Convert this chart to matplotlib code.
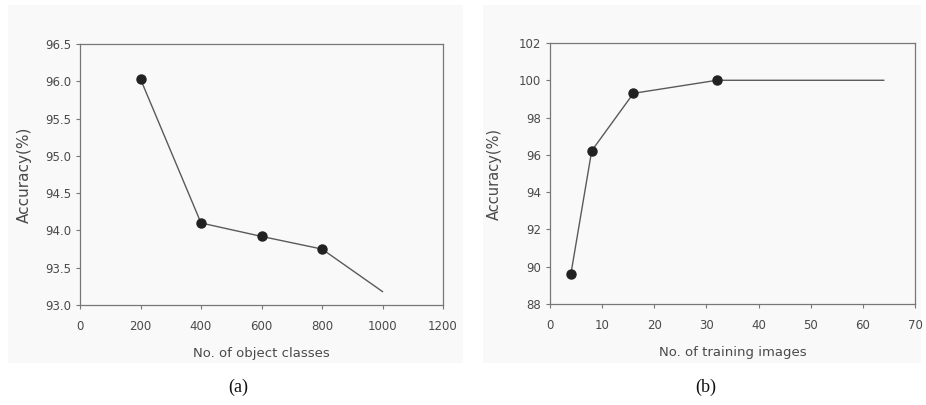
import matplotlib
matplotlib.use("Agg")
import matplotlib.pyplot as plt
from matplotlib.patches import Rectangle

plt.rcParams['font.family'] = ['DejaVu Sans']

# Data
classes = [200, 400, 600, 800, 1000]
acc_classes = [96.03, 94.10, 93.92, 93.75, 93.18]
train_imgs = [4, 8, 16, 32, 64]
acc_train = [89.6, 96.22, 99.3, 100.0, 100.0]

xt_a = [0, 200, 400, 600, 800, 1000, 1200]
yt_a = [93.0, 93.5, 94.0, 94.5, 95.0, 95.5, 96.0, 96.5]
xt_b = [0, 10, 20, 30, 40, 50, 60, 70]
yt_b = [88, 90, 92, 94, 96, 98, 100, 102]

W, H = 926, 405
fig = plt.figure(figsize=(W / 100, H / 100), dpi=100)
fig.patch.set_facecolor('white')

# light gray panel backgrounds
for (x0, x1) in [(8, 463), (483, 921)]:
    fig.patches.append(Rectangle((x0 / W, 1 - 363 / H), (x1 - x0) / W, (363 - 5) / H,
                                 transform=fig.transFigure, facecolor='#f9f9f9',
                                 edgecolor='none', zorder=-10))

def make_ax(l, r, t, b):
    return fig.add_axes([l / W, 1 - b / H, (r - l) / W, (b - t) / H])

line_c = '#5a5a5a'
mark_c = '#222222'
txt_c = '#4a4a4a'
spine_c = '#777777'

def style(ax):
    ax.set_facecolor('#f9f9f9')
    for s in ax.spines.values():
        s.set_color(spine_c)
        s.set_linewidth(0.9)
    ax.tick_params(axis='both', direction='out', length=3, width=0.8, colors=spine_c,
                   labelcolor=txt_c, labelsize=8.5)
    ax.tick_params(axis='x', pad=8)

# Panel (a)
ax1 = make_ax(80, 443, 44, 305)
style(ax1)
ax1.plot(classes, acc_classes, color=line_c, lw=1.0, zorder=2)
ax1.plot(classes[:-1], acc_classes[:-1], 'o', color=mark_c, ms=6.5, zorder=3)
ax1.set_xlim(0, 1200)
ax1.set_ylim(93.0, 96.5)
ax1.set_xticks(xt_a)
ax1.set_yticks(yt_a)
ax1.set_yticklabels([f"{v:.1f}" for v in yt_a])
ax1.set_xlabel('No. of object classes', fontsize=9.5, color=txt_c, labelpad=10)
ax1.set_ylabel('Accuracy(%)', fontsize=11, color=txt_c, labelpad=9)

# Panel (b)
ax2 = make_ax(550, 915, 43, 304)
style(ax2)
ax2.plot(train_imgs, acc_train, color=line_c, lw=1.0, zorder=2)
ax2.plot(train_imgs[:-1], acc_train[:-1], 'o', color=mark_c, ms=6.5, zorder=3)
ax2.set_xlim(0, 70)
ax2.set_ylim(88, 102)
ax2.set_xticks(xt_b)
ax2.set_yticks(yt_b)
ax2.set_xlabel('No. of training images', fontsize=9.5, color=txt_c, labelpad=10)
ax2.set_ylabel('Accuracy(%)', fontsize=10.5, color=txt_c, labelpad=12)

fig.text(238 / W, 1 - 387 / H, '(a)', ha='center', va='center', fontsize=13,
         family=['Liberation Serif', 'DejaVu Serif'], color='#111111')
fig.text(706 / W, 1 - 387 / H, '(b)', ha='center', va='center', fontsize=13,
         family=['Liberation Serif', 'DejaVu Serif'], color='#111111')

fig.savefig('out.png', dpi=100, facecolor='white')
